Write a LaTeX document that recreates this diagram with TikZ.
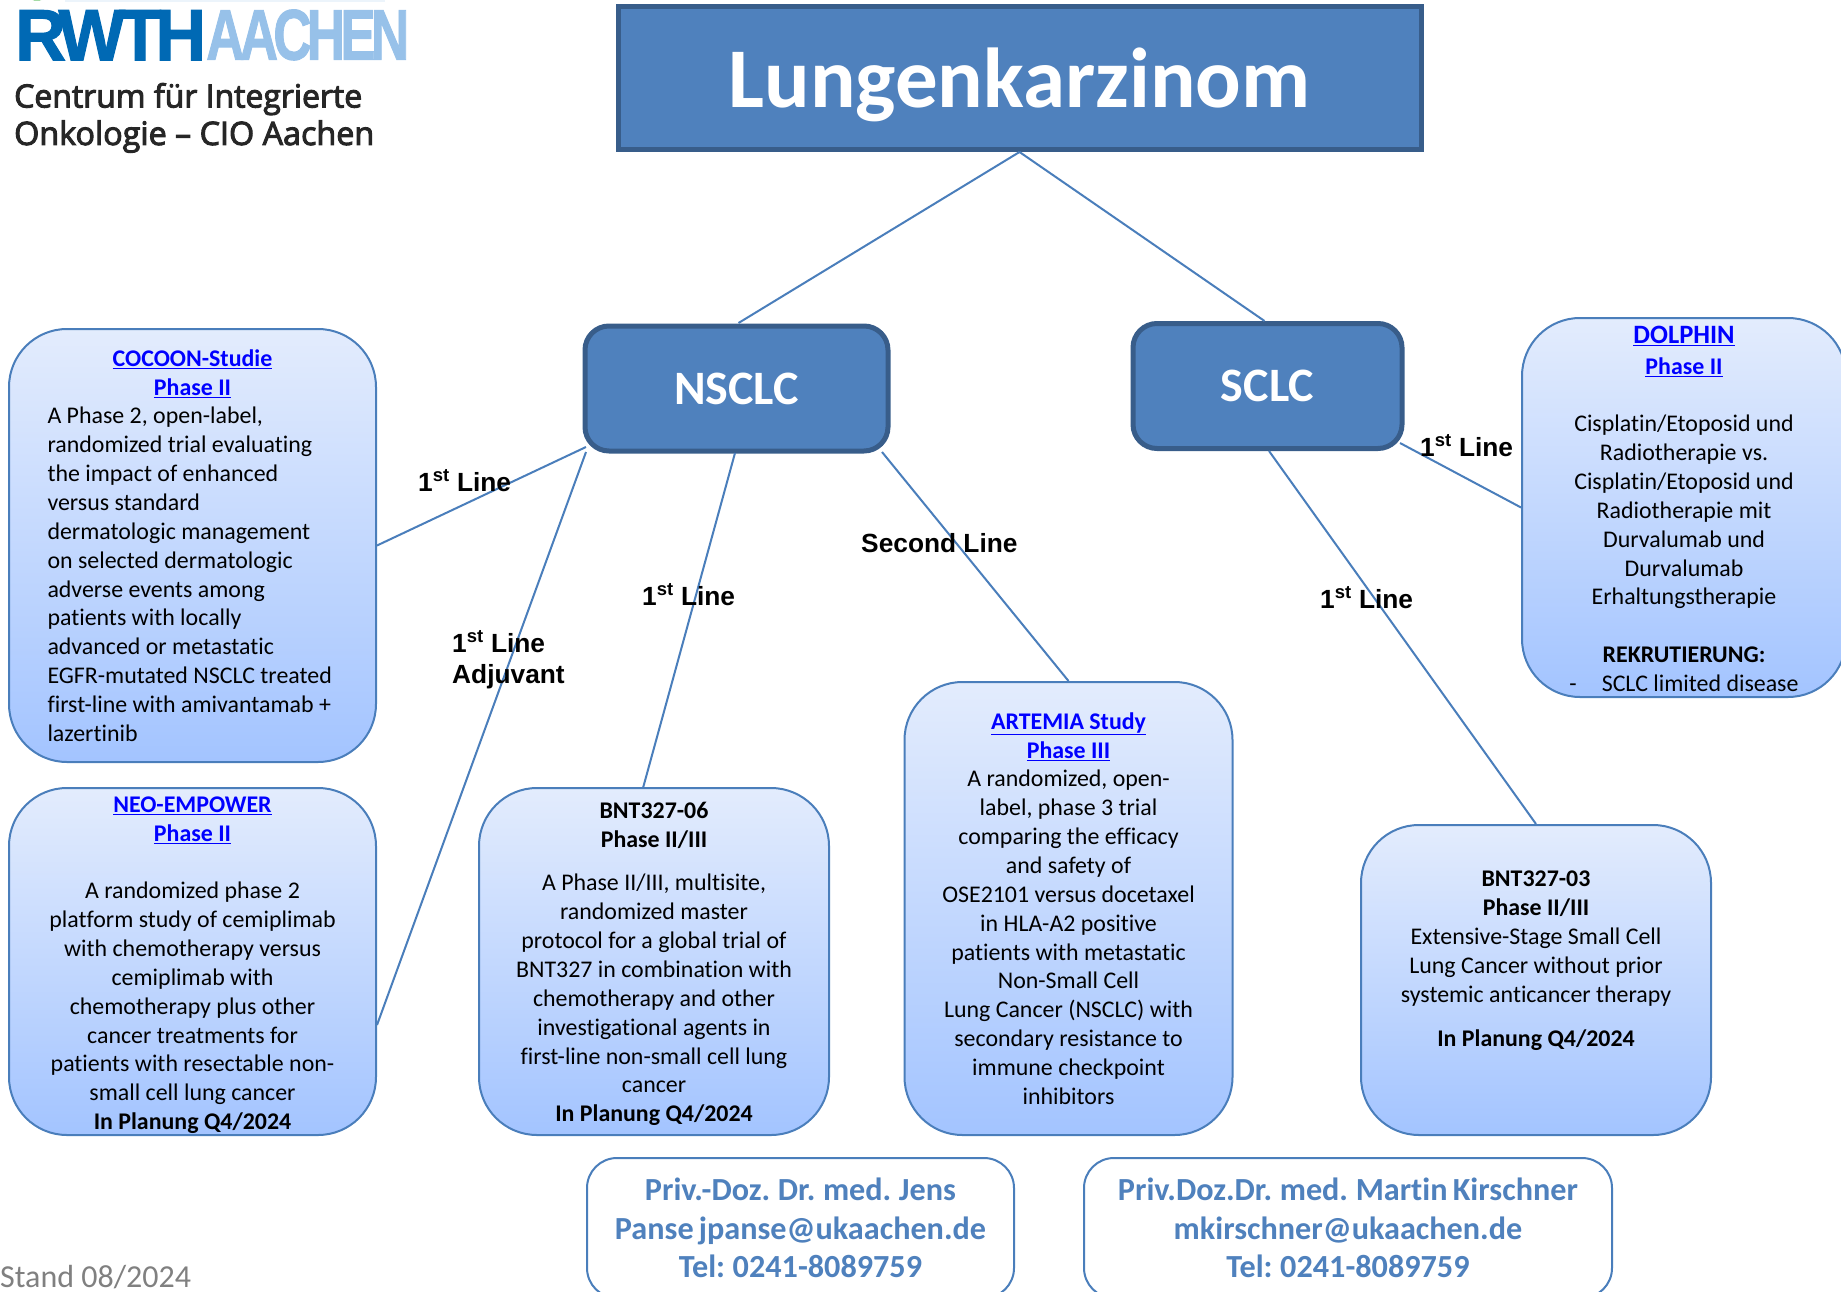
\documentclass[tikz,border=0pt]{standalone}
\usepackage{fontspec}
\usepackage{graphicx}
\setmainfont{Carlito}[Ligatures=NoCommon]
\newfontfamily\contactfont[Ligatures=NoCommon,WordSpace=0.72]{Carlito}
\newfontfamily\labelfont{Liberation Sans}
\newfontfamily\logofont[LetterSpace=-9,FakeBold=1.5]{Liberation Sans}
\newfontfamily\cioFont[FakeBold=3]{Open Sans}
\definecolor{boxblue}{HTML}{4F81BD}
\definecolor{boxedge}{HTML}{385D8A}
\definecolor{linecol}{HTML}{4A7EBB}
\definecolor{gradtop}{HTML}{E3ECFD}
\definecolor{gradbot}{HTML}{A3C4FF}
\definecolor{linkblue}{HTML}{0000FF}
\definecolor{rwthdark}{HTML}{0069B4}
\definecolor{rwthlight}{HTML}{97C1E9}
\newcommand{\studyhead}[1]{{\bfseries\color{linkblue}\underline{#1}}}
\newcommand{\firstln}{1\textsuperscript{st} Line}
\newcommand{\topfill}[1]{\rule{0pt}{#1}}
\tikzset{
  studybox/.style={draw=linecol,line width=2pt,rounded corners=58pt,top color=gradtop,bottom color=gradbot,
    inner sep=0pt,align=center,text=black,font=\fontsize{23.9}{28.85}\selectfont},
  headbox/.style={draw=boxedge,line width=5pt,fill=boxblue,text=white,inner sep=0pt,font=\bfseries\fontsize{48}{52}\selectfont},
  contactbox/.style={draw=linecol,line width=2pt,fill=white,rounded corners=30pt,inner sep=0pt,align=center,text=boxblue,
    font=\contactfont\bfseries\fontsize{32.2}{38.7}\selectfont},
  conn/.style={draw=linecol,line width=2pt},
  linelabel/.style={inner sep=0pt,anchor=base west,align=left,font=\labelfont\bfseries\fontsize{26.3}{31.5}\selectfont},
}
\begin{document}
\begin{tikzpicture}[x=1pt,y=-1pt]
\clip (0,0) rectangle (1841,1292);
% logo
\fill[rwthlight!40!white,opacity=.45] (65,0) rectangle (385,2);
\fill[green!60!black] (26,-4) .. controls (30,2) and (44,2) .. (48,-4) -- cycle;
\node[inner sep=0pt,anchor=south west,text=rwthdark] (rwth) at (15,60.5) {\resizebox{191pt}{50pt}{\logofont\bfseries RWTH}};
\node[inner sep=0pt,anchor=south west,text=rwthlight] (aachen) at (206,60.5) {\resizebox{203pt}{50pt}{\logofont\bfseries AACHEN}};
\node[inner sep=0pt,anchor=base west,text=black!85] (cioa) at (14,107.5) {\resizebox{348pt}{!}{\cioFont\fontsize{30.5}{38}\selectfont Centrum für Integrierte}};
\node[inner sep=0pt,anchor=base west,text=black!85] (ciob) at (14,145) {\resizebox{360pt}{!}{\cioFont\fontsize{30.5}{38}\selectfont Onkologie – CIO Aachen}};

% head boxes
\node[headbox,minimum width=803pt,minimum height=143pt,font=\bfseries\fontsize{85}{90}\selectfont] (title) at (1019.5,78) {\raisebox{-30pt}[0pt][0pt]{Lungenkarzinom}};
\node[headbox,rounded corners=24pt,minimum width=303pt,minimum height=125pt] (nsclc) at (736.5,388.5) {NSCLC};
\node[headbox,rounded corners=24pt,minimum width=269pt,minimum height=125pt] (sclc) at (1267.5,386) {SCLC};

% study boxes
\node[studybox,minimum width=367pt,minimum height=433pt] (cocoon) at (192.5,545.5) {%
\begin{minipage}{290pt}\fontsize{23.9}{28.85}\selectfont
\centering\studyhead{COCOON-Studie}\\\studyhead{Phase II}\par
\raggedright
A Phase 2, open-label,\\ randomized trial evaluating\\ the impact of enhanced\\ versus standard\\ dermatologic management\\ on selected dermatologic\\ adverse events among\\ patients with locally\\ advanced or metastatic\\ EGFR-mutated NSCLC treated\\ first-line with amivantamab +\\ lazertinib
\end{minipage}};
\node[studybox,minimum width=367pt,minimum height=347pt] (neo) at (192.5,961.5) {%
\topfill{23pt}\studyhead{NEO-EMPOWER}\\\studyhead{Phase II}\\[28.85pt]
A randomized phase 2\\ platform study of cemiplimab\\ with chemotherapy versus\\ cemiplimab with\\ chemotherapy plus other\\ cancer treatments for\\ patients with resectable non-\\ small cell lung cancer\\ \textbf{In Planung Q4/2024}};
\node[studybox,minimum width=350pt,minimum height=347pt] (bntsix) at (654,961.5) {%
\topfill{21pt}\textbf{BNT327-06}\\\textbf{Phase II/III}\\[15pt]
A Phase II/III, multisite,\\ randomized master\\ protocol for a global trial of\\ BNT327 in combination with\\ chemotherapy and other\\ investigational agents in\\ first-line non-small cell lung\\ cancer\\ \textbf{In Planung Q4/2024}};
\node[studybox,minimum width=328pt,minimum height=453pt] (artemia) at (1068.5,908.5) {%
\studyhead{ARTEMIA Study}\\\studyhead{Phase III}\\
A randomized, open-\\ label, phase 3 trial\\ comparing the efficacy\\ and safety of\\ OSE2101 versus docetaxel\\ in HLA-A2 positive\\ patients with metastatic\\ Non-Small Cell\\ Lung Cancer (NSCLC) with\\ secondary resistance to\\ immune checkpoint\\ inhibitors};
\node[studybox,minimum width=350pt,minimum height=310pt] (bntthree) at (1536,980) {%
\textbf{BNT327-03}\\\textbf{Phase II/III}\\
Extensive-Stage Small Cell\\ Lung Cancer without prior\\ systemic anticancer therapy\\[15pt]
\textbf{In Planung Q4/2024}\\[14pt]\mbox{}};
\node[studybox,minimum width=324pt,minimum height=379pt] (dolphin) at (1684,507.5) {%
\topfill{20pt}{\fontsize{26.5}{28.85}\selectfont\studyhead{DOLPHIN}}\\[2pt]\studyhead{Phase II}\\[28.85pt]
Cisplatin/Etoposid und\\ Radiotherapie vs.\\ Cisplatin/Etoposid und\\ Radiotherapie mit\\ Durvalumab und\\ Durvalumab\\ Erhaltungstherapie\\[28.85pt]
\textbf{REKRUTIERUNG:}\\ -\hspace{25pt}SCLC limited disease};

% contact boxes
\node[contactbox,minimum width=427pt,minimum height=140pt] (panse) at (800.5,1228) {Priv.-Doz. Dr. med. Jens\\ Panse jpanse@ukaachen.de\\ Tel: 0241-8089759};
\node[contactbox,minimum width=528pt,minimum height=140pt] (kirschner) at (1348,1228) {Priv.Doz.Dr. med. Martin Kirschner\\ mkirschner@ukaachen.de\\ Tel: 0241-8089759};
\node[inner sep=0pt,anchor=base west,text=black!50,font=\fontsize{32}{36}\selectfont] (stand) at (0,1287) {Stand 08/2024};

% connectors
\coordinate (nsT) at (738.5,323);
\coordinate (scT) at (1264.5,321);
\coordinate (nsL) at (586,447);
\coordinate (nsLb) at (586,452);
\coordinate (nsS) at (735,453);
\coordinate (nsR) at (882,452);
\coordinate (neoR) at (377,1025);
\coordinate (bntTop) at (643,788);
\coordinate (scS) at (1269,451);
\coordinate (scR) at (1400,443);
\draw[conn] (title.south) -- (nsT);
\draw[conn] (title.south) -- (scT);
\draw[conn] (nsL) -- (cocoon.east);
\draw[conn] (nsLb) -- (neoR);
\draw[conn] (nsS) -- (bntTop);
\draw[conn] (nsR) -- (artemia.north);
\draw[conn] (scS) -- (bntthree.north);
\draw[conn] (scR) -- (dolphin.west);

% labels
\node[linelabel] (la) at (418,491) {\firstln};
\node[linelabel] (lb) at (861,552) {Second Line};
\node[linelabel] (lc) at (642,605) {\firstln};
\node[linelabel] (ld) at (1320,608) {\firstln};
\node[linelabel] (le) at (1420,456) {\firstln};
\node[linelabel] (lf) at (452,683.5) {\firstln\\ Adjuvant};
\end{tikzpicture}
\end{document}
